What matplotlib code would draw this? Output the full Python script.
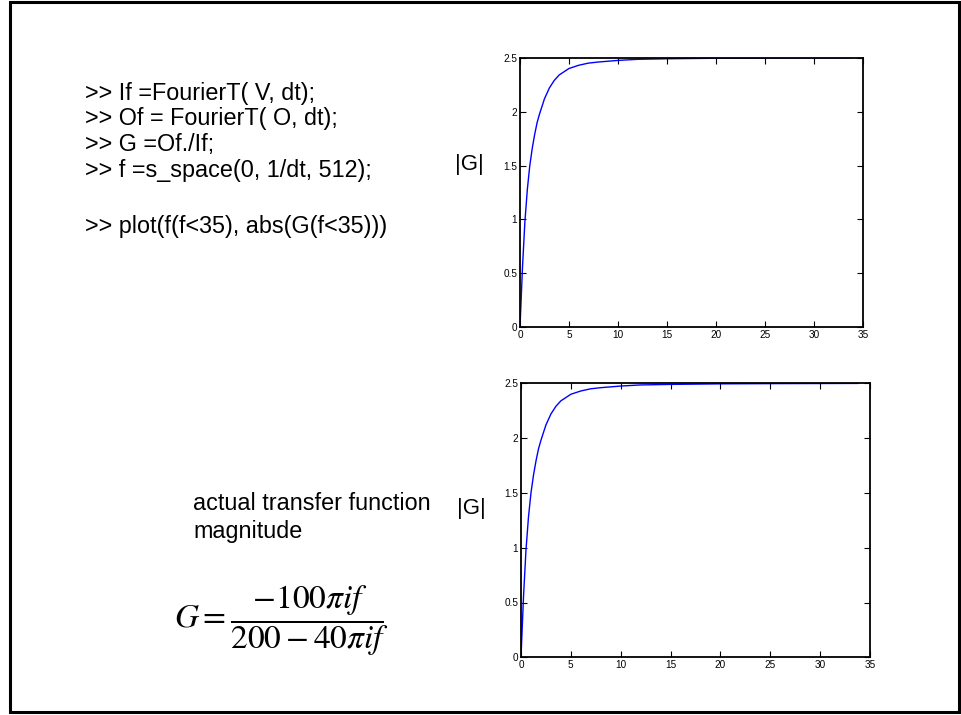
import matplotlib
matplotlib.use("Agg")
import matplotlib.pyplot as plt
from matplotlib.patches import Rectangle

# Frequency samples (Hz) and |G| magnitude
freq = [0, 0.25, 0.5, 0.75, 1.0, 1.25, 1.5, 1.75, 2.0, 2.5, 3.0, 3.5, 4.0,
        5.0, 6.0, 7.0, 8.0, 10.0, 12.0, 15.0, 20.0, 25.0, 30.0, 33.8]
gain_measured = [0, 0.55, 0.98, 1.28, 1.50, 1.66, 1.79, 1.90, 1.98, 2.12, 2.22,
                 2.29, 2.34, 2.40, 2.43, 2.45, 2.46, 2.475, 2.485, 2.49, 2.495,
                 2.497, 2.498, 2.499]
gain_actual = [0, 0.55, 0.98, 1.28, 1.50, 1.66, 1.79, 1.90, 1.98, 2.12, 2.22,
               2.29, 2.34, 2.40, 2.43, 2.45, 2.46, 2.475, 2.485, 2.49, 2.495,
               2.497, 2.498, 2.499]

x_ticks = [0, 5, 10, 15, 20, 25, 30, 35]
y_ticks = [0, 0.5, 1, 1.5, 2, 2.5]
y_tick_labels = ["0", "0.5", "1", "1.5", "2", "2.5"]

code_lines = [">> If =FourierT( V, dt);",
              ">> Of = FourierT( O, dt);",
              ">> G =Of./If;",
              ">> f =s_space(0, 1/dt, 512);",
              ">> plot(f(f<35), abs(G(f<35)))"]

W, H = 961, 715
plt.rcParams["font.family"] = ["Liberation Sans", "DejaVu Sans"]
plt.rcParams["mathtext.fontset"] = "stix"

fig = plt.figure(figsize=(W / 100, H / 100), dpi=100)


def px(x, y):
    return x / W, 1 - y / H


def box(left, top, right, bottom):
    return [left / W, 1 - bottom / H, (right - left) / W, (bottom - top) / H]


# slide frame
fig.patches.append(Rectangle(px(10, 712), 949 / W, 710 / H, transform=fig.transFigure,
                             fill=False, edgecolor="black", linewidth=2.2))


def draw_panel(rect, g):
    ax = fig.add_axes(rect)
    ax.plot(freq, g, color="#0000ff", linewidth=1.0)
    ax.set_xlim(0, 35)
    ax.set_ylim(0, 2.5)
    ax.set_xticks(x_ticks)
    ax.set_xticklabels([str(t) for t in x_ticks])
    ax.set_yticks(y_ticks)
    ax.set_yticklabels(y_tick_labels)
    ax.tick_params(direction="in", top=True, right=True, length=4, width=0.8,
                   labelsize=7.2, pad=2)
    for s in ax.spines.values():
        s.set_linewidth(1.3)
    return ax


draw_panel(box(520, 57.7, 863, 327.3), gain_measured)
draw_panel(box(521, 383.3, 870, 657.3), gain_actual)

# command listing
baselines = [100, 125, 151, 177, 233]
for line, yb in zip(code_lines, baselines):
    fig.text(*px(85, yb), line, fontsize=16.8, va="baseline", ha="left")

fig.text(*px(455, 170), "|G|", fontsize=16, va="baseline", ha="left")
fig.text(*px(457, 514), "|G|", fontsize=16, va="baseline", ha="left")

fig.text(*px(193, 510), "actual transfer function", fontsize=16.8, va="baseline", ha="left")
fig.text(*px(193, 538), "magnitude", fontsize=16.8, va="baseline", ha="left")

fig.text(*px(174, 621), r"$G=\dfrac{-100\pi if}{200-40\pi if}$", fontsize=24,
         va="center", ha="left")

fig.savefig("out.png", dpi=100)
